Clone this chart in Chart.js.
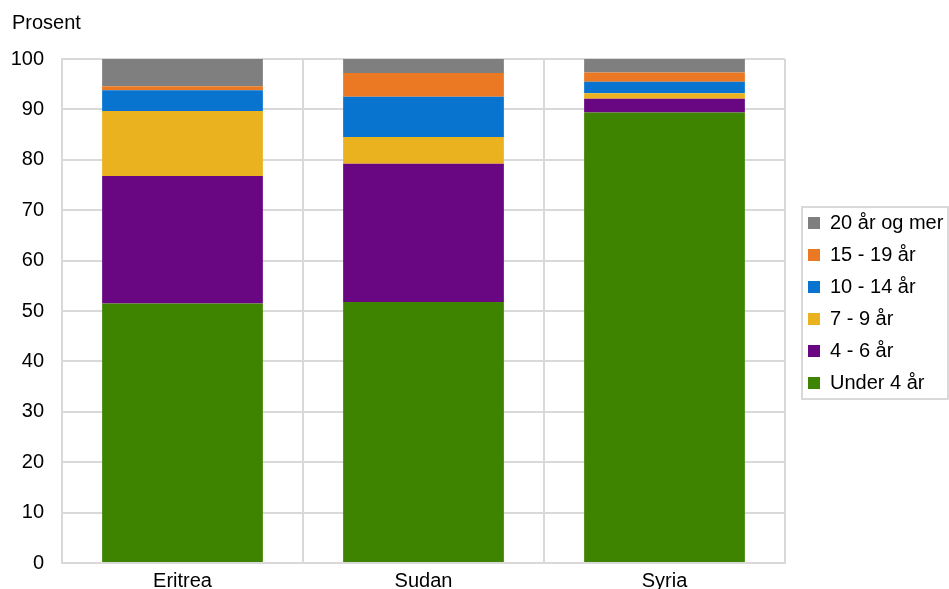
<!DOCTYPE html>
<html>
<head>
<meta charset="utf-8">
<script src="https://cdn.jsdelivr.net/npm/chart.js@4"></script>
<style>
  html, body { margin: 0; padding: 0; background: #fff; }
  #wrap { width: 949px; height: 589px; }
</style>
</head>
<body>
<div id="wrap"><canvas id="chart" width="949" height="589"></canvas></div>
<script>
// Kategorier og verdier (prosent)
const countries = ['Eritrea', 'Sudan', 'Syria'];
const under4 = [51.5, 51.8, 89.4];
const age4to6 = [25.3, 27.4, 2.7];
const age7to9 = [12.9, 5.3, 1.1];
const age10to14 = [4.1, 8.0, 2.3];
const age15to19 = [0.8, 4.7, 1.8];
const age20plus = [5.4, 2.8, 2.7];
const yTicks = [0, 10, 20, 30, 40, 50, 60, 70, 80, 90, 100];

const font = 'Liberation Sans, Arial, sans-serif';

// Legenden: fast bredde, flyttes litt til hoyre, og ramme rundt
const legendBox = {
    id: 'legendBox',
    afterInit(chart) {
        const lg = chart.legend;
        const origFit = lg.fit.bind(lg);
        lg.fit = function() {
            origFit();
            this.width = 164;
        };
    },
    afterLayout(chart) {
        const lg = chart.legend;
        lg.left = chart.chartArea.right + 11;
        lg.right = chart.width;
        lg.width = lg.right - lg.left;
        lg.top += 4;
        lg.bottom += 4;
    },
    afterDraw(chart) {
        const lg = chart.legend;
        const boxes = lg.legendHitBoxes;
        if (!boxes || !boxes.length) return;
        const first = boxes[0], last = boxes[boxes.length - 1];
        const top = first.top + first.height / 2 - 16;
        const bottom = last.top + last.height / 2 + 16;
        const x = chart.chartArea.right + 16;
        const ctx = chart.ctx;
        ctx.save();
        ctx.strokeStyle = '#d9d9d9';
        ctx.lineWidth = 2;
        ctx.strokeRect(x + 1, top, chart.width - x - 2, bottom - top);
        ctx.restore();
    }
};

const ctx = document.getElementById('chart').getContext('2d');
new Chart(ctx, {
    type: 'bar',
    data: {
        labels: countries,
        datasets: [
            { label: 'Under 4 år', data: under4, backgroundColor: '#3f8400' },
            { label: '4 - 6 år', data: age4to6, backgroundColor: '#690783' },
            { label: '7 - 9 år', data: age7to9, backgroundColor: '#ebb220' },
            { label: '10 - 14 år', data: age10to14, backgroundColor: '#0874cf' },
            { label: '15 - 19 år', data: age15to19, backgroundColor: '#eb7823' },
            { label: '20 år og mer', data: age20plus, backgroundColor: '#7f7f7f' }
        ]
    },
    options: {
        responsive: false,
        animation: false,
        layout: { padding: { left: 12, right: 0, top: 9, bottom: 0 } },
        datasets: {
            bar: { categoryPercentage: 0.667, barPercentage: 1.0 }
        },
        scales: {
            x: {
                stacked: true,
                afterFit(axis) { axis.height = 26; },
                grid: { offset: true, color: '#d9d9d9', lineWidth: 2, drawTicks: false },
                border: { color: '#d9d9d9', width: 2 },
                ticks: { color: '#000', font: { family: font, size: 20 }, padding: 6 }
            },
            y: {
                stacked: true,
                min: 0,
                max: 100,
                afterBuildTicks(axis) { axis.ticks = yTicks.map(v => ({ value: v })); },
                afterFit(axis) {
                    axis.width = 50;
                    axis.paddingTop = 0;
                    axis.paddingBottom = 0;
                },
                grid: { color: '#d9d9d9', lineWidth: 2, drawTicks: false },
                border: { color: '#d9d9d9', width: 2 },
                ticks: { color: '#000', font: { family: font, size: 20 }, padding: 18 }
            }
        },
        plugins: {
            title: {
                display: true,
                text: 'Prosent',
                align: 'start',
                color: '#000',
                font: { family: font, size: 20, weight: 'normal' },
                padding: { top: 2, bottom: 24 }
            },
            legend: {
                position: 'right',
                reverse: true,
                labels: {
                    color: '#000',
                    font: { family: font, size: 20 },
                    boxWidth: 12,
                    boxHeight: 12,
                    padding: 12
                }
            },
            tooltip: { enabled: false }
        }
    },
    plugins: [legendBox]
});
</script>
</body>
</html>
